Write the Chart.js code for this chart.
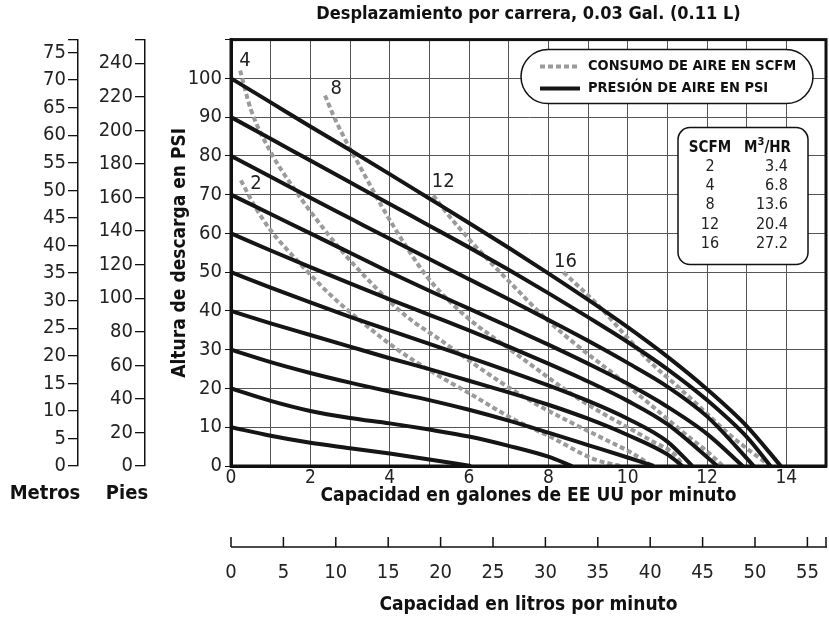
<!DOCTYPE html>
<html>
<head>
<meta charset="utf-8">
<script src="https://cdn.jsdelivr.net/npm/chart.js@4.4.0/dist/chart.umd.min.js"></script>
<style>
  body { margin: 0; background: #fff; }
  #caja { width: 829px; height: 622px; }
</style>
</head>
<body>
<div id="caja"><canvas id="grafico" width="829" height="622"></canvas></div>
<script>
// curvas de presion de aire, [galones por minuto, psi]
const psi10 = [[0,10],[1,7.8],[2,6],[3,4.6],[4,3.2],[5,1.7],[6.05,0]]
const psi20 = [[0,20],[1,16.8],[2,14.2],[3,12.4],[4,11],[5,9.4],[6,7.6],[7,5.2],[8,2.4],[8.6,0]]
const psi30 = [[0,30],[1,26.8],[2,24],[3,21.5],[4,19.2],[5,17],[6,14.5],[7,11.7],[8,8.6],[9,5.4],[10,2.2],[10.66,0]]
const psi40 = [[0,40],[1,36.8],[2,33.8],[3,30.8],[4,27.8],[5,25],[6,22],[7,19],[8,15.8],[9,12.2],[10,8],[11,3],[11.38,0]]
const psi50 = [[0,50],[1,46],[2,42.2],[3,38.5],[4,35],[5,31.5],[6,28],[7,24.5],[8,20.8],[9,16.8],[10,12.2],[11,6.3],[11.63,0]]
const psi60 = [[0,60],[1,55.6],[2,51.3],[3,47.1],[4,43],[5,39],[6,35],[7,30.8],[8,26.4],[9,21.8],[10,16.8],[11,10.8],[12.26,0]]
const psi70 = [[0,70],[1,65],[2,60],[3,55],[4,50],[5,45.2],[6,40.6],[7,36],[8,31.3],[9,26.4],[10,21.2],[11,15.3],[12,8.3],[12.9,0]]
const psi80 = [[0,80],[1,74.6],[2,69.2],[3,63.9],[4,58.6],[5,53.4],[6,48.2],[7,43],[8,37.7],[9,32.3],[10,26.6],[11,20.5],[12,12.8],[13.18,0]]
const psi90 = [[0,90],[1,84.4],[2,78.8],[3,73.2],[4,67.6],[5,62],[6,56.4],[7,50.6],[8,44.6],[9,38.4],[10,32],[11,25],[12,17],[13,7.5],[13.6,0]]
const psi100 = [[0,100],[1,93.8],[2,87.6],[3,81.5],[4,75.3],[5,69],[6,62.7],[7,56.3],[8,49.7],[9,42.9],[10,35.8],[11,28.2],[12,19.8],[13,10.3],[13.86,0]]

// curvas de consumo de aire en SCFM
const scfm2 = [[0.25,73.7],[0.6,67],[1,60.8],[1.67,53],[2.5,44.2],[3.5,35.5],[4.2,30],[5.28,23],[6,18.8],[7.1,12.2],[8.06,7.5],[9.14,1.8],[9.82,0]]
const scfm4 = [[0.23,102],[0.5,92],[1,81],[1.67,70.4],[2.2,63],[2.75,56],[3.6,46.5],[4.4,38.8],[5.28,32.5],[6.1,26.5],[6.8,21.6],[7.6,16.5],[8.5,11.6],[9.4,7],[10.1,3.4],[10.62,0]]
const scfm8 = [[2.37,95.6],[2.6,90],[2.93,83.2],[3.2,78.2],[3.51,72.4],[3.8,67],[4.3,58.5],[4.95,48.7],[5.61,41.5],[6.11,37],[6.8,31.8],[7.5,26.6],[8.3,20.6],[9.1,15.2],[9.82,11],[10.6,6.5],[11.2,2.8],[11.4,0]]
const scfm12 = [[5.1,69.8],[5.5,64.5],[5.96,59],[6.5,53],[7.05,47.2],[7.98,37.6],[8.81,30.4],[9.75,22.9],[10.3,18.2],[10.9,13],[11.6,7],[12,3.8],[12.4,0]]
const scfm16 = [[8.38,50],[9.3,41],[10,33],[10.6,26.5],[11.26,20.5],[12,13.5],[12.6,7.8],[13.2,3],[13.6,0]]

// marcas de los ejes secundarios
const ticksMetros = [0,5,10,15,20,25,30,35,40,45,50,55,60,65,70,75]
const ticksPies = [0,20,40,60,80,100,120,140,160,180,200,220,240]
const ticksLitros = [0,5,10,15,20,25,30,35,40,45,50,55]

// tabla SCFM -> m3/h
const tablaScfm = [2, 4, 8, 12, 16]
const tablaM3 = [3.4, 6.8, 13.6, 20.4, 27.2]

// etiquetas de las curvas SCFM, en galones y psi
const etiquetas = ['2', '4', '8', '12', '16']
const etiquetaX = [0.63, 0.35, 2.65, 5.35, 8.43]
const etiquetaY = [72.9, 104.6, 97.4, 73.2, 52.6]

const fuente = "'Liberation Sans Narrow', 'DejaVu Sans Condensed', 'Liberation Sans', sans-serif"
Chart.defaults.font.family = fuente
Chart.defaults.color = '#222'

const aPuntos = arr => arr.map(p => ({x: p[0], y: p[1]}))

const presiones = [psi10, psi20, psi30, psi40, psi50, psi60, psi70, psi80, psi90, psi100]
const consumos = [scfm2, scfm4, scfm8, scfm12, scfm16]

const datasets = []
presiones.forEach(function(c){
    datasets.push({
        data: aPuntos(c),
        showLine: true,
        borderColor: '#151515',
        borderWidth: 4,
        pointRadius: 0,
        cubicInterpolationMode: 'monotone',
        order: 0
    })
})
consumos.forEach(function(c){
    datasets.push({
        data: aPuntos(c),
        showLine: true,
        borderColor: '#9b9b9b',
        borderWidth: 4,
        borderDash: [5, 3],
        pointRadius: 0,
        cubicInterpolationMode: 'monotone',
        order: 1
    })
})

// sin relleno extra a los lados de las escalas
const ancho = w => s => { s.width = w; s.paddingTop = 0; s.paddingBottom = 0 }
const alto = h => s => { s.height = h; s.paddingLeft = 0; s.paddingRight = 0 }
const marcas = lista => s => { s.ticks = lista.concat([s.max]).map(v => ({value: v})) }

const adornos = {
    id: 'adornos',
    afterDraw(chart){
        const ctx = chart.ctx
        const a = chart.chartArea
        const sx = chart.scales.x
        const sy = chart.scales.y
        ctx.save()

        // marco del grafico
        ctx.strokeStyle = '#111'
        ctx.lineWidth = 3
        ctx.strokeRect(a.left, a.top, a.right - a.left, a.bottom - a.top)

        // eje de litros: linea con marcas hacia arriba
        const sl = chart.scales.xl
        const y0 = sl.top
        ctx.lineWidth = 1.5
        ctx.beginPath()
        ctx.moveTo(sl.left, y0)
        ctx.lineTo(sl.right + 1, y0)
        sl.ticks.forEach(function(t){
            const px = sl.getPixelForValue(t.value)
            ctx.moveTo(px, y0)
            ctx.lineTo(px, y0 - 10)
        })
        ctx.stroke()

        // nombres de los ejes de la izquierda
        ctx.fillStyle = '#111'
        ctx.font = 'bold 20px ' + fuente
        ctx.textAlign = 'center'
        ctx.textBaseline = 'middle'
        ctx.fillText('Metros', chart.scales.ym.right - 33, sx.top + 28)
        ctx.fillText('Pies', chart.scales.yf.right - 18, sx.top + 28)

        // numeros de las curvas
        ctx.font = '20px ' + fuente
        ctx.fillStyle = '#222'
        etiquetas.forEach(function(t, i){
            ctx.fillText(t, sx.getPixelForValue(etiquetaX[i]), sy.getPixelForValue(etiquetaY[i]))
        })

        // leyenda
        const lx = a.right - 305
        const ly = a.top + 10
        ctx.beginPath()
        ctx.roundRect(lx, ly, 292, 54, 27)
        ctx.fillStyle = '#fff'
        ctx.fill()
        ctx.lineWidth = 1.5
        ctx.strokeStyle = '#111'
        ctx.stroke()
        ctx.lineWidth = 4
        ctx.strokeStyle = '#9b9b9b'
        ctx.setLineDash([5, 3])
        ctx.beginPath()
        ctx.moveTo(lx + 19, ly + 17)
        ctx.lineTo(lx + 58, ly + 17)
        ctx.stroke()
        ctx.setLineDash([])
        ctx.strokeStyle = '#151515'
        ctx.beginPath()
        ctx.moveTo(lx + 19, ly + 39)
        ctx.lineTo(lx + 59, ly + 39)
        ctx.stroke()
        ctx.fillStyle = '#111'
        ctx.font = 'bold 14.5px ' + fuente
        ctx.textAlign = 'left'
        ctx.fillText('CONSUMO DE AIRE EN SCFM', lx + 67, ly + 17)
        ctx.fillText('PRESIÓN DE AIRE EN PSI', lx + 67, ly + 39)

        // tabla SCFM / m3 por hora
        const tx = a.right - 148
        const ty = a.top + 88
        ctx.beginPath()
        ctx.roundRect(tx, ty, 130, 137, 12)
        ctx.fillStyle = '#fff'
        ctx.fill()
        ctx.lineWidth = 1.5
        ctx.strokeStyle = '#111'
        ctx.stroke()
        ctx.fillStyle = '#111'
        ctx.font = 'bold 15px ' + fuente
        ctx.textAlign = 'center'
        ctx.fillText('SCFM', tx + 32, ty + 21)
        ctx.textAlign = 'right'
        ctx.fillText('/HR', tx + 113, ty + 21)
        const wHr = ctx.measureText('/HR').width
        ctx.font = 'bold 11px ' + fuente
        ctx.fillText('3', tx + 113 - wHr, ty + 15)
        const w3 = ctx.measureText('3').width
        ctx.font = 'bold 15px ' + fuente
        ctx.fillText('M', tx + 113 - wHr - w3, ty + 21)
        ctx.font = '16px ' + fuente
        ctx.fillStyle = '#222'
        tablaScfm.forEach(function(v, i){
            const yy = ty + 39 + i * 19.3
            ctx.textAlign = 'center'
            ctx.fillText(String(v), tx + 32, yy)
            ctx.textAlign = 'right'
            ctx.fillText(tablaM3[i].toFixed(1), tx + 110, yy)
        })
        ctx.restore()
    }
}

const config = {
    type: 'scatter',
    data: { datasets: datasets },
    options: {
        responsive: false,
        animation: false,
        devicePixelRatio: 1,
        layout: { padding: { left: 0, right: 3, top: 0, bottom: 0 } },
        plugins: {
            legend: { display: false },
            tooltip: { enabled: false },
            title: {
                display: true,
                fullSize: false,
                text: 'Desplazamiento por carrera, 0.03 Gal. (0.11 L)',
                color: '#111',
                font: { size: 18, weight: 'bold' },
                padding: { top: 4, bottom: 14 }
            }
        },
        scales: {
            x: {
                type: 'linear', position: 'bottom', weight: 0,
                min: 0, max: 15,
                ticks: {
                    stepSize: 1, autoSkip: false, maxRotation: 0, padding: 1,
                    font: { size: 19 },
                    callback: v => (v % 2 === 0 && v < 15) ? v : ''
                },
                grid: { color: '#555', lineWidth: 1, drawTicks: false },
                border: { display: true, color: '#111', width: 3 },
                title: {
                    display: true, text: 'Capacidad en galones de EE UU por minuto',
                    color: '#111', font: { size: 19, weight: 'bold' },
                    padding: { top: 0, bottom: 40 }
                },
                afterFit: alto(81)
            },
            xl: {
                type: 'linear', position: 'bottom', weight: 1,
                min: 0, max: 15 * 3.785,
                afterBuildTicks: marcas(ticksLitros),
                ticks: {
                    autoSkip: false, maxRotation: 0, padding: 14,
                    font: { size: 20 },
                    callback: v => (v % 5 === 0) ? v : ''
                },
                grid: { display: false, drawTicks: false, drawOnChartArea: false },
                border: { display: false },
                title: {
                    display: true, text: 'Capacidad en litros por minuto',
                    color: '#111', font: { size: 19, weight: 'bold' },
                    padding: { top: 0, bottom: 6 }
                },
                afterFit: alto(75)
            },
            y: {
                type: 'linear', position: 'left', weight: 0,
                min: 0, max: 110,
                ticks: {
                    stepSize: 10, autoSkip: false, padding: 3,
                    font: { size: 20 },
                    callback: v => v <= 100 ? v : ''
                },
                grid: { color: '#555', lineWidth: 1, tickLength: 6, tickColor: '#111' },
                border: { display: true, color: '#111', width: 3 },
                title: {
                    display: true, text: 'Altura de descarga en PSI',
                    color: '#111', font: { size: 19, weight: 'bold' },
                    padding: { top: 24, bottom: 0 }
                },
                afterFit: ancho(86)
            },
            yf: {
                type: 'linear', position: 'left', weight: 1,
                min: 0, max: 110 * 2.31,
                afterBuildTicks: marcas(ticksPies),
                ticks: {
                    autoSkip: false, padding: 2,
                    font: { size: 20 },
                    callback: v => (v % 20 === 0) ? v : ''
                },
                grid: { drawOnChartArea: false, tickLength: 10, color: '#111', lineWidth: 1.3 },
                border: { display: true, color: '#111', width: 1.5 },
                afterFit: ancho(67)
            },
            ym: {
                type: 'linear', position: 'left', weight: 2,
                min: 0, max: 110 * 0.7031,
                afterBuildTicks: marcas(ticksMetros),
                ticks: {
                    autoSkip: false, padding: 2,
                    font: { size: 20 },
                    callback: v => (v % 5 === 0) ? v : ''
                },
                grid: { drawOnChartArea: false, tickLength: 10, color: '#111', lineWidth: 1.3 },
                border: { display: true, color: '#111', width: 1.5 },
                afterFit: ancho(78)
            }
        }
    },
    plugins: [adornos]
}

const myChart = new Chart(document.getElementById('grafico'), config)
</script>
</body>
</html>
